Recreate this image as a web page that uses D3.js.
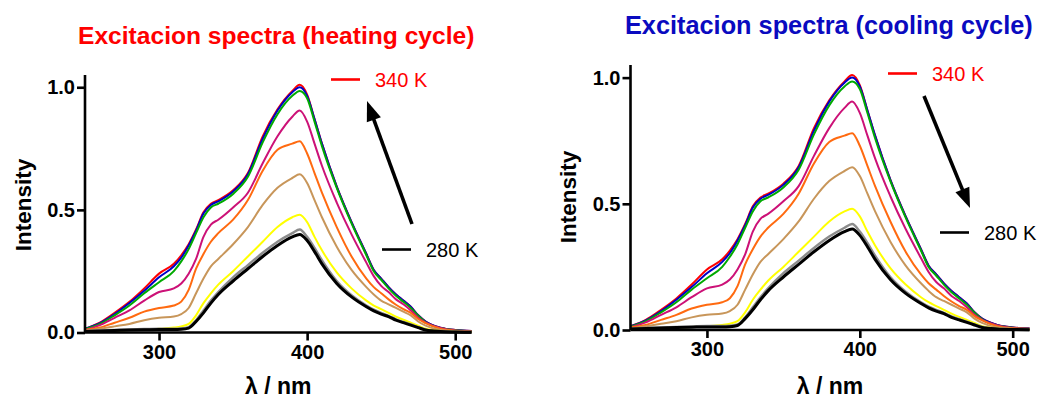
<!DOCTYPE html>
<html>
<head>
<meta charset="utf-8">
<script src="https://cdn.jsdelivr.net/npm/d3@7"></script>
<style>
  html, body { margin: 0; padding: 0; background: #fff; }
  svg { display: block; }
  text { font-family: Arial, "Liberation Sans", Helvetica, sans-serif; }
</style>
</head>
<body>
<svg id="chart" width="1046" height="403"></svg>
<script>
// Excitation spectra: normalized intensity vs wavelength (nm), one curve per temperature.
const wavelengths = [250,260,270,280,290,300,310,315,320,325,330,335,340,350,360,370,380,390,395,400,405,410,420,430,440,445,450,455,460,465,470,475,480,490,500,511];

const curve340K = [0.015,0.04,0.08,0.125,0.18,0.24,0.28,0.315,0.36,0.42,0.49,0.525,0.54,0.58,0.65,0.80,0.91,0.985,1.01,0.97,0.87,0.77,0.595,0.45,0.32,0.255,0.22,0.185,0.155,0.13,0.105,0.07,0.045,0.02,0.01,0.006];
const curveBlue  = [0.015,0.038,0.075,0.12,0.17,0.225,0.27,0.305,0.355,0.415,0.485,0.52,0.535,0.575,0.645,0.79,0.905,0.98,1.0,0.965,0.87,0.77,0.595,0.45,0.32,0.255,0.22,0.185,0.155,0.13,0.105,0.07,0.045,0.02,0.01,0.006];
const curveGreen = [0.013,0.035,0.07,0.11,0.16,0.205,0.25,0.29,0.34,0.405,0.47,0.51,0.525,0.565,0.635,0.775,0.89,0.965,0.985,0.955,0.86,0.76,0.59,0.445,0.315,0.25,0.215,0.18,0.15,0.125,0.1,0.068,0.042,0.018,0.009,0.005];
const curveMagenta = [0.01,0.03,0.06,0.09,0.13,0.165,0.18,0.2,0.24,0.3,0.39,0.44,0.46,0.51,0.57,0.69,0.8,0.88,0.905,0.86,0.77,0.68,0.53,0.4,0.285,0.23,0.19,0.165,0.135,0.115,0.09,0.06,0.04,0.018,0.008,0.005];
const curveOrange = [0.01,0.02,0.04,0.06,0.085,0.1,0.11,0.126,0.174,0.26,0.32,0.37,0.405,0.46,0.54,0.66,0.745,0.77,0.78,0.73,0.65,0.57,0.43,0.31,0.22,0.185,0.16,0.135,0.113,0.095,0.08,0.055,0.038,0.015,0.007,0.004];
const curveTan = [0.005,0.015,0.025,0.035,0.05,0.06,0.065,0.075,0.1,0.16,0.22,0.27,0.3,0.36,0.43,0.52,0.59,0.63,0.645,0.61,0.54,0.47,0.35,0.255,0.185,0.155,0.13,0.115,0.1,0.085,0.07,0.045,0.028,0.01,0.005,0.003];
const curveYellow = [0.003,0.005,0.007,0.01,0.012,0.015,0.02,0.025,0.035,0.07,0.12,0.16,0.195,0.25,0.31,0.37,0.43,0.47,0.48,0.45,0.39,0.335,0.245,0.18,0.13,0.11,0.095,0.08,0.065,0.052,0.04,0.028,0.015,0.006,0.003,0.002];
const curveGray = [0.006,0.008,0.01,0.012,0.014,0.016,0.016,0.017,0.022,0.05,0.09,0.13,0.165,0.225,0.275,0.325,0.37,0.405,0.42,0.39,0.345,0.295,0.21,0.152,0.11,0.093,0.08,0.068,0.054,0.043,0.033,0.022,0.012,0.005,0.003,0.002];
const curve280K = [0.004,0.006,0.008,0.01,0.011,0.012,0.012,0.013,0.018,0.045,0.08,0.12,0.155,0.21,0.26,0.31,0.355,0.39,0.40,0.375,0.33,0.28,0.2,0.145,0.105,0.088,0.075,0.065,0.05,0.04,0.03,0.02,0.01,0.004,0.002,0.001];

const seriesValues = [curve340K, curveBlue, curveGreen, curveMagenta, curveOrange, curveTan, curveYellow, curveGray, curve280K];
const seriesColors = ["#ff0000", "#0000c8", "#00aa00", "#cc1177", "#ff6a10", "#c8965a", "#ffff00", "#8c8c8c", "#000000"];
const seriesWidths = [2, 2, 2, 2, 2, 2, 2, 2.4, 3];

const xTicks = [300, 400, 500];
const yTicks = [0, 0.5, 1.0];
const xDomain = [250, 511];
const yDomain = [0, 1.05];
const legendLabels = ["340 K", "280 K"];
const panelTitles = ["Excitacion spectra (heating cycle)", "Excitacion spectra (cooling cycle)"];

const svg = d3.select("#chart");

function drawPanel(p) {
  const x = d3.scaleLinear().domain(xDomain).range([p.left, p.right]);
  const y = d3.scaleLinear().domain(yDomain).range([p.bottom, p.top]);
  const g = svg.append("g");

  const line = d3.line().x((d, i) => x(wavelengths[i])).y(d => y(d)).curve(d3.curveMonotoneX);
  seriesValues.forEach((vals, k) => {
    g.append("path")
      .attr("d", line(vals))
      .attr("fill", "none")
      .attr("stroke", seriesColors[k])
      .attr("stroke-width", seriesWidths[k])
      .attr("stroke-linejoin", "round");
  });

  const xAxis = g.append("g")
    .attr("transform", `translate(0,${p.bottom})`)
    .call(d3.axisBottom(x).tickValues(xTicks).tickSize(8).tickPadding(4).tickFormat(d3.format("d")));
  const yAxis = g.append("g")
    .attr("transform", `translate(${p.left},0)`)
    .call(d3.axisLeft(y).tickValues(yTicks).tickSize(8).tickPadding(2).tickFormat(d3.format(".1f")));
  [xAxis, yAxis].forEach(a => {
    a.select(".domain").attr("stroke", "#000").attr("stroke-width", 2.6)
      .attr("d", a === xAxis ? `M${p.left},0H${p.right}` : `M0,${p.bottom}V${p.top}`);
    a.selectAll(".tick line").attr("stroke", "#000").attr("stroke-width", 2.6);
    a.selectAll(".tick text").attr("fill", "#000").attr("font-size", 20).attr("font-weight", "bold")
      .style("font-family", "Arial, 'Liberation Sans', sans-serif");
  });

  g.append("text")
    .attr("x", (p.left + p.right) / 2).attr("y", 394)
    .attr("text-anchor", "middle").attr("font-size", 23).attr("font-weight", "bold")
    .text("λ / nm");
  g.append("text")
    .attr("transform", `translate(${p.ylabX},${p.ylabY}) rotate(-90)`)
    .attr("text-anchor", "middle").attr("font-size", 22.5).attr("font-weight", "bold")
    .text("Intensity");

  g.append("text")
    .attr("x", p.titleX).attr("y", p.titleY)
    .attr("font-size", p.titleSize).attr("font-weight", "bold").attr("fill", p.titleColor)
    .text(p.title);

  // temperature legend
  g.append("line").attr("x1", p.hiX).attr("x2", p.hiX + 29).attr("y1", p.hiY).attr("y2", p.hiY)
    .attr("stroke", seriesColors[0]).attr("stroke-width", 2.6);
  g.append("text").attr("x", p.hiX + 44).attr("y", p.hiY + 7.5).attr("font-size", 20).attr("fill", seriesColors[0])
    .text(legendLabels[0]);
  g.append("line").attr("x1", p.loX).attr("x2", p.loX + 29).attr("y1", p.loY).attr("y2", p.loY)
    .attr("stroke", "#000").attr("stroke-width", 2.6);
  g.append("text").attr("x", p.loX + 44).attr("y", p.loY + 7.5).attr("font-size", 20).attr("fill", "#000")
    .text(legendLabels[1]);

  // trend arrow
  const [x1, y1, x2, y2] = p.arrow;
  const ang = Math.atan2(y2 - y1, x2 - x1);
  const headLen = 20, headW = 7.5;
  const bx = x2 - headLen * Math.cos(ang), by = y2 - headLen * Math.sin(ang);
  g.append("line").attr("x1", x1).attr("y1", y1).attr("x2", bx + 2 * Math.cos(ang)).attr("y2", by + 2 * Math.sin(ang))
    .attr("stroke", "#000").attr("stroke-width", 3.6);
  const nx = -Math.sin(ang), ny = Math.cos(ang);
  g.append("path")
    .attr("d", `M${x2},${y2}L${bx + nx * headW},${by + ny * headW}L${bx - nx * headW},${by - ny * headW}Z`)
    .attr("fill", "#000");
}

drawPanel({
  left: 85, right: 471.5, top: 75, bottom: 332.5,
  ylabX: 31, ylabY: 205,
  title: panelTitles[0], titleX: 78, titleY: 44, titleSize: 24.6, titleColor: "#ff0000",
  hiX: 331, hiY: 79.5, loX: 382, loY: 249.5,
  arrow: [412, 224, 367, 101]
});

drawPanel({
  left: 630.5, right: 1029.5, top: 65, bottom: 330,
  ylabX: 576, ylabY: 197,
  title: panelTitles[1], titleX: 625, titleY: 33.5, titleSize: 25.3, titleColor: "#0a0ac0",
  hiX: 888, hiY: 73.5, loX: 940, loY: 232.5,
  arrow: [924, 96, 970, 208]
});
</script>
</body>
</html>
